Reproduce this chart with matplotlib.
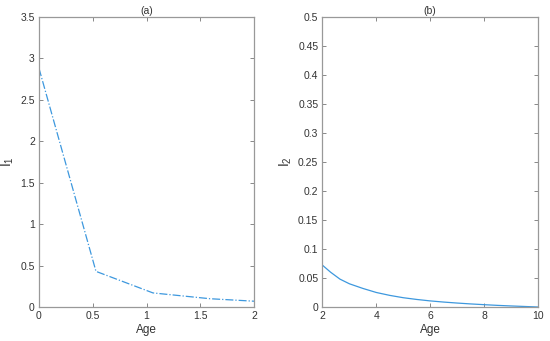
import matplotlib
matplotlib.use("Agg")
import matplotlib.pyplot as plt

plt.rcParams['font.family'] = ['Liberation Sans', 'DejaVu Sans']
plt.rcParams['mathtext.fontset'] = 'custom'
plt.rcParams['mathtext.rm'] = 'Liberation Sans'

age_a = [0, 0.53, 1.06, 1.59, 2.0]
i1 = [2.88, 0.43, 0.17, 0.10, 0.07]

age_b = [2.0, 2.3, 2.65, 3.0, 3.5, 4.0, 4.5, 5.0, 5.5, 6.0, 6.5, 7.0, 7.5, 8.0, 8.5, 9.0, 9.5, 10.0]
i2 = [0.072, 0.060, 0.048, 0.040, 0.032, 0.025, 0.020, 0.016, 0.013, 0.0105, 0.0085, 0.0068, 0.0053, 0.0040, 0.0028, 0.0018, 0.0009, 0.0]

yt_a = [0, 0.5, 1, 1.5, 2, 2.5, 3, 3.5]
xt_a = [0, 0.5, 1, 1.5, 2]
yt_b = [0, 0.05, 0.1, 0.15, 0.2, 0.25, 0.3, 0.35, 0.4, 0.45, 0.5]
xt_b = [2, 4, 6, 8, 10]

color = '#3D98DE'
fs = 7.5
tcol = '#333333'

fig = plt.figure(figsize=(5.5, 3.41), dpi=100)
ax1 = fig.add_axes([39/550, 34/341, 215/550, 290/341])
ax2 = fig.add_axes([322.5/550, 34/341, 215.5/550, 290/341])

ax1.plot(age_a, i1, color=color, linestyle='-.', linewidth=0.9)
ax1.set_xlim(0, 2)
ax1.set_ylim(0, 3.5)
ax1.set_xticks(xt_a)
ax1.set_xticklabels(['0', '0.5', '1', '1.5', '2'])
ax1.set_yticks(yt_a)
ax1.set_yticklabels(['0', '0.5', '1', '1.5', '2', '2.5', '3', '3.5'])
ax1.set_title('(a)', fontsize=fs, pad=2, color=tcol)
ax1.set_xlabel('Age', fontsize=8.5, labelpad=2, color=tcol)
ax1.set_ylabel(r'$\mathregular{I_1}$', fontsize=10, labelpad=3, color=tcol)

ax2.plot(age_b, i2, color=color, linestyle='-', linewidth=0.9)
ax2.set_xlim(2, 10)
ax2.set_ylim(0, 0.5)
ax2.set_xticks(xt_b)
ax2.set_xticklabels(['2', '4', '6', '8', '10'])
ax2.set_yticks(yt_b)
ax2.set_yticklabels(['0', '0.05', '0.1', '0.15', '0.2', '0.25', '0.3', '0.35', '0.4', '0.45', '0.5'])
ax2.set_title('(b)', fontsize=fs, pad=2, color=tcol)
ax2.set_xlabel('Age', fontsize=8.5, labelpad=2, color=tcol)
ax2.set_ylabel(r'$\mathregular{I_2}$', fontsize=10, labelpad=3, color=tcol)

for ax in (ax1, ax2):
    ax.tick_params(direction='in', top=True, right=True, labelsize=fs,
                   length=3, width=0.7, color='#888888', labelcolor=tcol, pad=3)
    for s in ax.spines.values():
        s.set_color('#999999')
        s.set_linewidth(0.9)

fig.savefig('out.png', dpi=100)
